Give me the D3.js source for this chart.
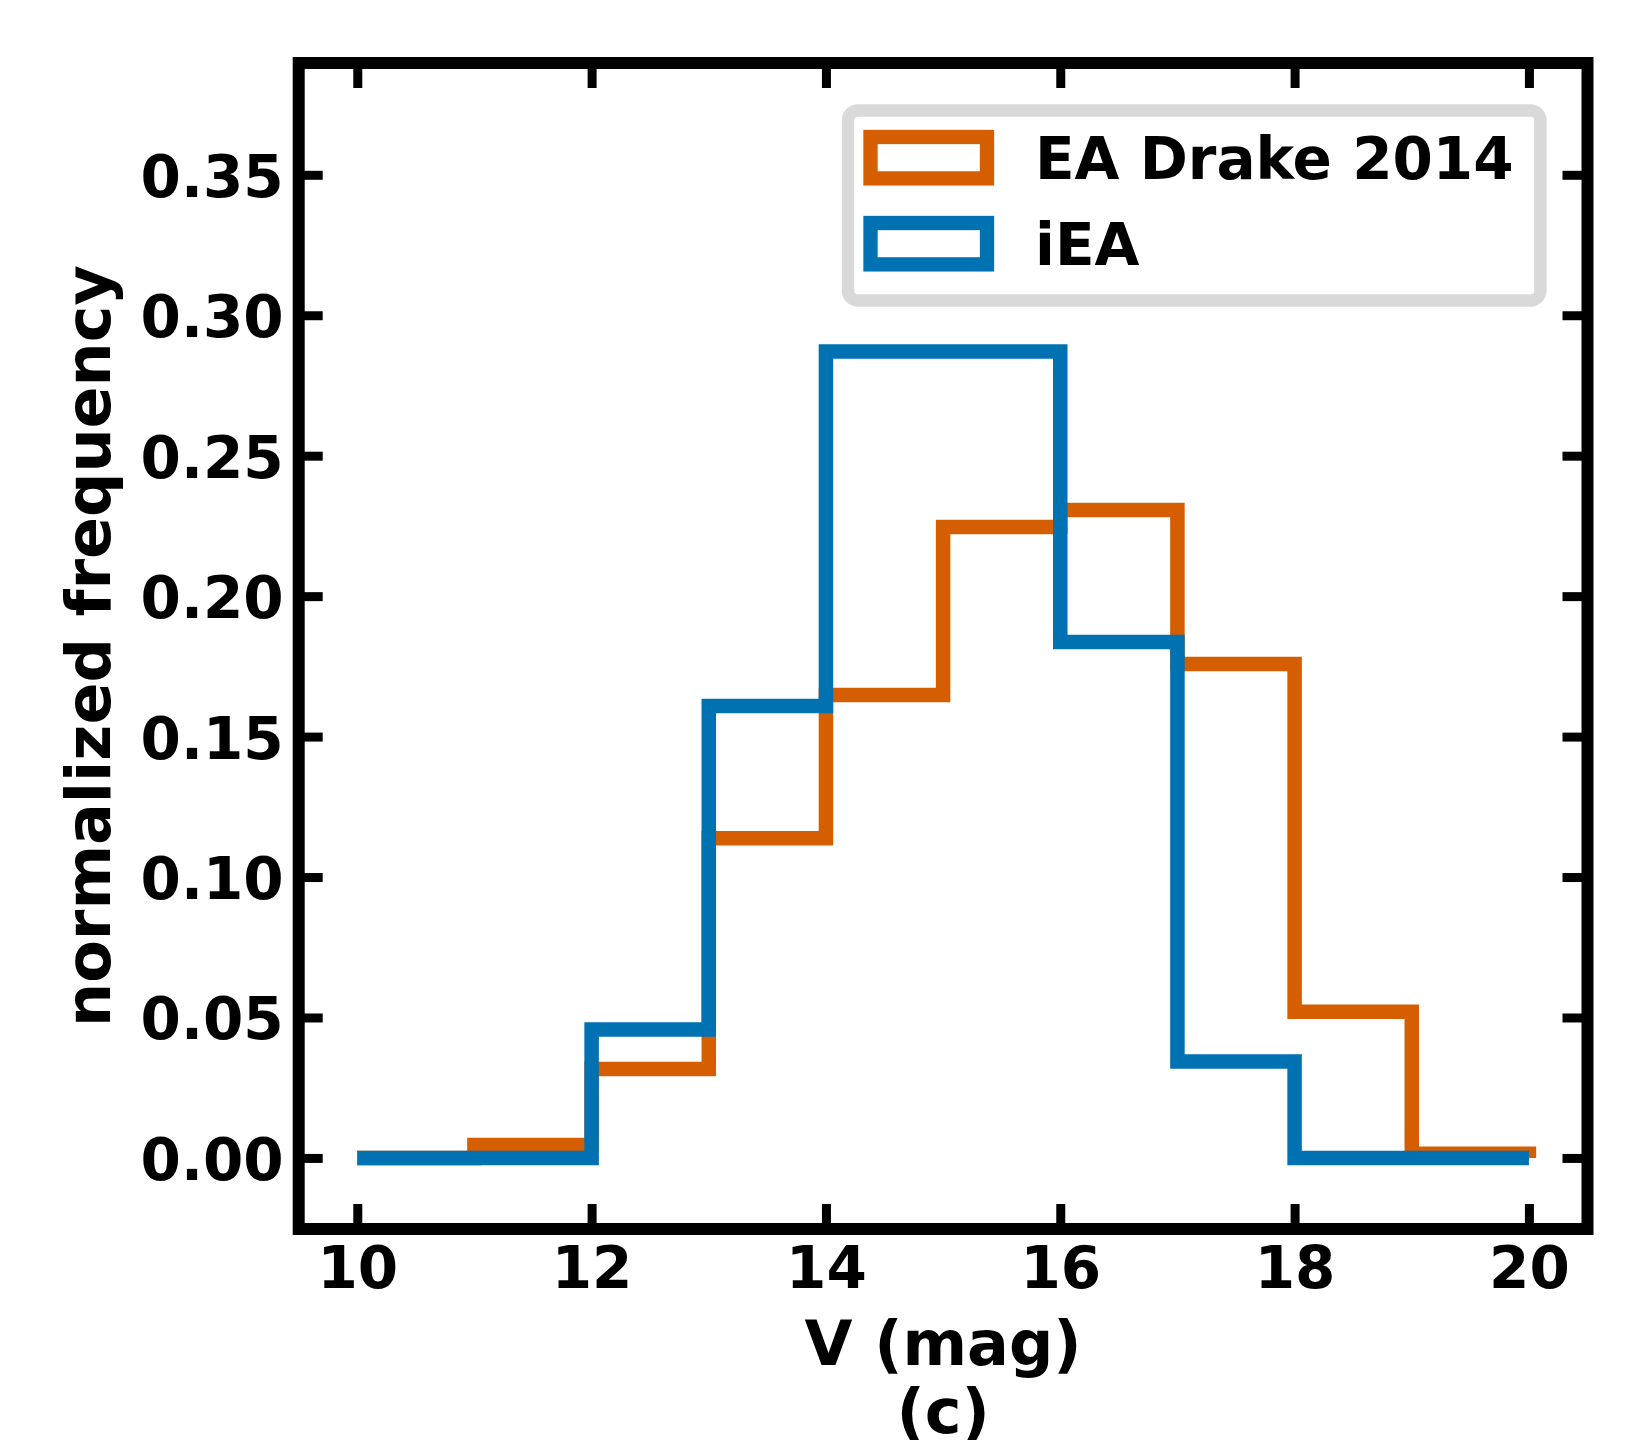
<!DOCTYPE html>
<html>
<head>
<meta charset="utf-8">
<script src="https://cdn.jsdelivr.net/npm/d3@7"></script>
<style>
  body { margin: 0; background: #fff; }
  text { font-family: "DejaVu Sans", sans-serif; font-weight: bold; }
</style>
</head>
<body>
<div id="chart"></div>
<script>
// bin edges of the V magnitude histograms
var binEdges = [10, 11, 12, 13, 14, 15, 16, 17, 18, 19, 20];
// normalized frequency per bin
var drakeValues = [0, 0.0046, 0.0317, 0.1138, 0.1648, 0.2246, 0.2307, 0.1758, 0.0520, 0.0015];
var ieaValues = [0, 0, 0.0457, 0.1609, 0.2871, 0.2871, 0.1837, 0.0343, 0, 0];
var seriesNames = ["EA Drake 2014", "iEA"];
var seriesColors = ["#d55e00", "#0072b2"];
var xTicks = [10, 12, 14, 16, 18, 20];
var yTicks = [0, 0.05, 0.10, 0.15, 0.20, 0.25, 0.30, 0.35];

var W = 1650, H = 1440;
var axL = 298.7, axR = 1587.5, axT = 63, axB = 1229;

var svg = d3.select("#chart").append("svg")
  .attr("width", W).attr("height", H);

var x = d3.scaleLinear().domain([9.5, 20.5]).range([axL, axR]);
var y = d3.scaleLinear().domain([-0.0253, 0.3898]).range([axB, axT]);

// step outline like matplotlib histtype='step'
function stepPoints(vals) {
  var pts = [[binEdges[0], 0]];
  vals.forEach(function(v, i) {
    pts.push([binEdges[i], v]);
    pts.push([binEdges[i + 1], v]);
  });
  pts.push([binEdges[binEdges.length - 1], 0]);
  return pts;
}

var line = d3.line().x(function(d) { return x(d[0]); }).y(function(d) { return y(d[1]); });

[drakeValues, ieaValues].forEach(function(vals, i) {
  svg.append("path")
    .attr("d", line(stepPoints(vals)))
    .attr("fill", "none")
    .attr("stroke", seriesColors[i])
    .attr("stroke-width", 14.5)
    .attr("stroke-linejoin", "miter")
    .attr("stroke-linecap", "butt");
});

// axes, ticks pointing inward
function styleAxis(g) {
  g.select(".domain").remove();
  g.selectAll(".tick line").attr("stroke", "#000").attr("stroke-width", 9);
  g.selectAll(".tick text").attr("font-size", 58).attr("fill", "#000");
}

svg.append("g").attr("transform", "translate(0," + axB + ")")
  .call(d3.axisBottom(x).tickValues(xTicks).tickSize(-25).tickPadding(18).tickFormat(d3.format("d")))
  .call(styleAxis);
svg.append("g").attr("transform", "translate(0," + axT + ")")
  .call(d3.axisTop(x).tickValues(xTicks).tickSize(-25).tickFormat(""))
  .call(styleAxis);
var yAx = svg.append("g").attr("transform", "translate(" + axL + ",0)")
  .call(d3.axisLeft(y).tickValues(yTicks).tickSize(-24).tickPadding(15).tickFormat(d3.format(".2f")))
  .call(styleAxis);
yAx.selectAll(".tick text").attr("dy", "0.37em");
svg.append("g").attr("transform", "translate(" + axR + ",0)")
  .call(d3.axisRight(y).tickValues(yTicks).tickSize(-25).tickFormat(""))
  .call(styleAxis);

// frame
svg.append("rect")
  .attr("x", axL).attr("y", axT)
  .attr("width", axR - axL).attr("height", axB - axT)
  .attr("fill", "none").attr("stroke", "#000").attr("stroke-width", 12);

// axis labels
svg.append("text")
  .attr("transform", "translate(110," + ((axT + axB) / 2) + ") rotate(-90)")
  .attr("text-anchor", "middle").attr("font-size", 62)
  .text("normalized frequency");
svg.append("text")
  .attr("x", (axL + axR) / 2).attr("y", 1365)
  .attr("text-anchor", "middle").attr("font-size", 62)
  .text("V (mag)");
svg.append("text")
  .attr("x", (axL + axR) / 2).attr("y", 1433)
  .attr("text-anchor", "middle").attr("font-size", 62)
  .text("(c)");

// legend
var legend = svg.append("g");
legend.append("rect")
  .attr("x", 848).attr("y", 110.4).attr("width", 692.4).attr("height", 190)
  .attr("rx", 10).attr("ry", 10)
  .attr("fill", "#fff").attr("stroke", "#d9d9d9").attr("stroke-width", 12.5);
seriesNames.forEach(function(name, i) {
  var yy = 137 + i * 86;
  legend.append("rect")
    .attr("x", 870.5).attr("y", yy).attr("width", 116.5).attr("height", 41.4)
    .attr("fill", "none").attr("stroke", seriesColors[i]).attr("stroke-width", 14.3);
  legend.append("text")
    .attr("x", 1035).attr("y", 179.3 + i * 86)
    .attr("font-size", 58)
    .text(name);
});
</script>
</body>
</html>
